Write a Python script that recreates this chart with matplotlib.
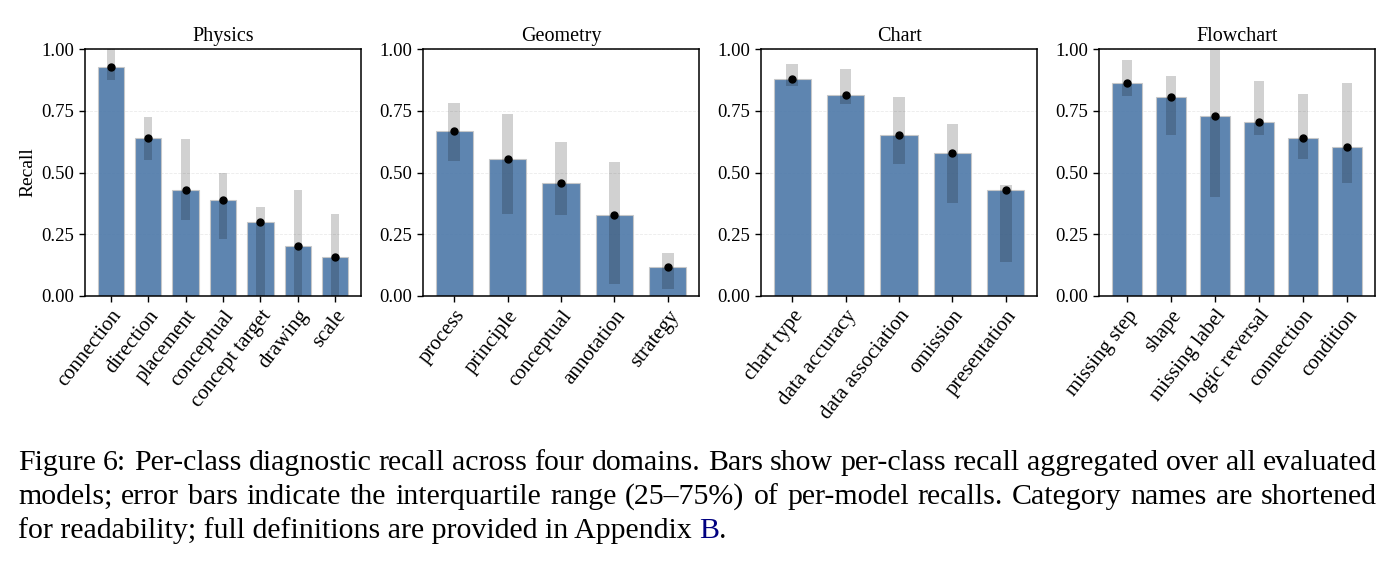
import matplotlib
matplotlib.use("Agg")
import matplotlib.pyplot as plt
import numpy as np

plt.rcParams['font.family'] = 'serif'
plt.rcParams['font.serif'] = ['Liberation Serif', 'DejaVu Serif']

## Data ##
domains = ["Physics", "Geometry", "Chart", "Flowchart"]

physics_cats = ["connection", "direction", "placement", "conceptual",
                "concept target", "drawing", "scale"]
physics_recall = [0.927, 0.639, 0.428, 0.389, 0.300, 0.201, 0.157]
physics_q25 = [0.876, 0.549, 0.309, 0.231, 0.0, 0.0, 0.0]
physics_q75 = [1.0, 0.726, 0.635, 0.499, 0.359, 0.431, 0.332]

geometry_cats = ["process", "principle", "conceptual", "annotation", "strategy"]
geometry_recall = [0.669, 0.555, 0.457, 0.327, 0.119]
geometry_q25 = [0.547, 0.332, 0.328, 0.047, 0.027]
geometry_q75 = [0.781, 0.738, 0.623, 0.543, 0.174]

chart_cats = ["chart type", "data accuracy", "data association", "omission",
              "presentation"]
chart_recall = [0.878, 0.814, 0.651, 0.577, 0.428]
chart_q25 = [0.849, 0.777, 0.535, 0.378, 0.138]
chart_q75 = [0.939, 0.920, 0.805, 0.695, 0.450]

flow_cats = ["missing step", "shape", "missing label", "logic reversal",
             "connection", "condition"]
flow_recall = [0.862, 0.804, 0.727, 0.704, 0.639, 0.605]
flow_q25 = [0.808, 0.653, 0.399, 0.650, 0.553, 0.458]
flow_q75 = [0.955, 0.892, 1.0, 0.872, 0.818, 0.862]

yticks = [0.0, 0.25, 0.5, 0.75, 1.0]

caption_lines = [
    "Figure 6: Per-class diagnostic recall across four domains. Bars show per-class recall aggregated over all evaluated",
    "models; error bars indicate the interquartile range (25\u201375%) of per-model recalls. Category names are shortened",
    "for readability; full definitions are provided in Appendix",
]

panels = [
    (physics_cats, physics_recall, physics_q25, physics_q75),
    (geometry_cats, geometry_recall, geometry_q25, geometry_q75),
    (chart_cats, chart_recall, chart_q25, chart_q75),
    (flow_cats, flow_recall, flow_q25, flow_q75),
]

## Figure ##
W, H = 1400, 563
fig = plt.figure(figsize=(W / 100, H / 100), dpi=100)

ax_left = [85, 423, 761, 1099]
ax_w = 276
ax_top, ax_bot = 49, 296

for k, (cats, rec, lo, hi) in enumerate(panels):
    ax = fig.add_axes([ax_left[k] / W, 1 - ax_bot / H, ax_w / W, (ax_bot - ax_top) / H])
    x = np.arange(len(cats))
    rec = np.array(rec)
    lo = np.array(lo)
    hi = np.array(hi)

    ax.bar(x, rec, width=0.7, color='#4C78A8', alpha=0.9,
           edgecolor='#c8c8c8', linewidth=0.8, zorder=2)
    # IQR band
    ax.bar(x, hi - lo, bottom=lo, width=0.22, color='black', alpha=0.18,
           linewidth=0, zorder=3)
    ax.plot(x, rec, 'o', color='black', markersize=5, zorder=4)

    ax.set_ylim(0, 1)
    ax.set_yticks(yticks)
    ax.set_yticklabels([f"{v:.2f}" for v in yticks], fontsize=13.5)
    ax.set_xticks(x)
    ax.set_xticklabels(cats, rotation=52, ha='right', rotation_mode='anchor',
                       fontsize=15)
    ax.grid(axis='y', linestyle='--', linewidth=0.6, alpha=0.25)
    ax.set_axisbelow(True)
    ax.tick_params(length=4, width=1)
    for s in ax.spines.values():
        s.set_linewidth(1.1)
    ax.set_title(domains[k], fontsize=14.5, pad=6)
    if k == 0:
        ax.set_ylabel("Recall", fontsize=14)

## Caption (justified) ##
cap_fs = 21.5
renderer = fig.canvas.get_renderer()
x0, x1 = 18, 1377
baselines = [470, 504, 538]


def text_width(s):
    t = fig.text(0, 0, s, fontsize=cap_fs)
    w = t.get_window_extent(renderer).width
    t.remove()
    return w


for i, line in enumerate(caption_lines):
    yb = 1 - baselines[i] / H
    if i < 2:
        words = line.split(" ")
        widths = [text_width(wd) for wd in words]
        gap = (x1 - x0 - sum(widths)) / (len(words) - 1)
        xp = x0
        for wd, w in zip(words, widths):
            fig.text(xp / W, yb, wd, fontsize=cap_fs, va='baseline', ha='left')
            xp += w + gap
    else:
        fig.text(x0 / W, yb, line + " ", fontsize=cap_fs, va='baseline', ha='left')
        xp = x0 + text_width(line + " x") - text_width("x")
        fig.text(xp / W, yb, "B", fontsize=cap_fs, va='baseline', ha='left',
                 color='#000080')
        xp += text_width("B")
        fig.text(xp / W, yb, ".", fontsize=cap_fs, va='baseline', ha='left')

fig.savefig("out.png", dpi=100)
